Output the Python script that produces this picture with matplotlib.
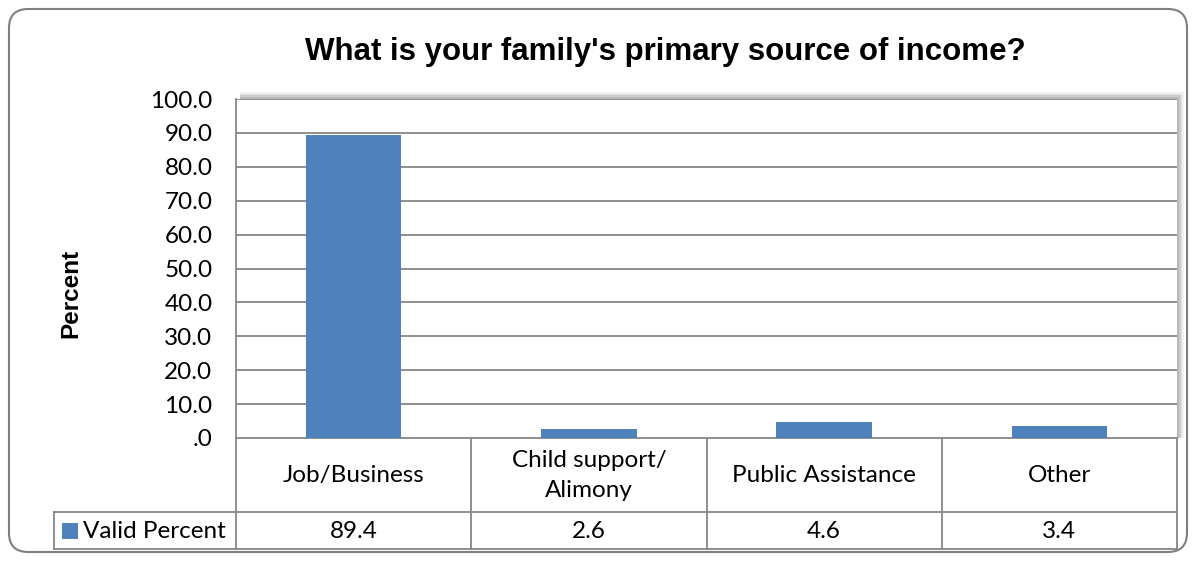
import matplotlib
matplotlib.use("Agg")
import matplotlib.pyplot as plt
from matplotlib.patches import FancyBboxPatch, Rectangle
import numpy as np

categories = ["Job/Business", "Child support/\nAlimony", "Public Assistance", "Other"]
valid_percent = [89.4, 2.6, 4.6, 3.4]
series_name = "Valid Percent"
yticks = [0, 10, 20, 30, 40, 50, 60, 70, 80, 90, 100]
ytick_labels = [".0"] + ["%.1f" % t for t in yticks[1:]]

bar_color = "#4F81BD"
line_color = "#868686"
W, H = 1193, 561

fig = plt.figure(figsize=(W / 100, H / 100), dpi=100)
fig.patch.set_facecolor("white")

def fx(px):
    return px / W

def fy(py):
    return 1 - py / H

# outer rounded frame
frame = FancyBboxPatch((fx(9), fy(552)), fx(1178), 543 / H,
                       boxstyle="round,pad=0,rounding_size=0.016",
                       transform=fig.transFigure, fc="white", ec="#7f7f7f", lw=1.5,
                       mutation_aspect=W / H, zorder=0)
fig.patches.append(frame)

# soft shadow behind the plot area (top and right)
for i, a in enumerate([0.10, 0.15, 0.2, 0.28]):
    off = 7 - i * 1.7
    fig.patches.append(Rectangle((fx(240), fy(438)), fx(937 + off), (339 + off) / H,
                                 transform=fig.transFigure, fc="#808080", ec="none",
                                 alpha=a, zorder=0.5))

ax = fig.add_axes([fx(236), fy(438), fx(941), 339 / H], zorder=2)
ax.set_facecolor("white")
x = np.arange(len(categories))
ax.bar(x, valid_percent, width=0.405, color=bar_color, zorder=3)
ax.set_xlim(-0.5, len(categories) - 0.5)
ax.set_ylim(0, 100)
ax.set_yticks(yticks)
ax.set_yticklabels(ytick_labels, fontsize=17.5, family="Lato")
ax.set_xticks([])
ax.tick_params(axis="y", length=0, pad=17)
for t in yticks[1:]:
    ax.axhline(t, color=line_color, lw=1.3, zorder=1)
for s in ["top", "right"]:
    ax.spines[s].set_visible(False)
ax.spines["left"].set_color(line_color)
ax.spines["left"].set_linewidth(1.3)
ax.spines["bottom"].set_color(line_color)
ax.spines["bottom"].set_linewidth(1.3)

ax.set_title("What is your family's primary source of income?", fontsize=22.5,
             fontweight="bold", family="Liberation Sans", pad=28, x=0.456)
fig.text(fx(71), fy(293), "Percent", rotation=90, fontsize=17.5, fontweight="bold",
         family="Liberation Sans", ha="center", va="center")

# data table under the plot
unit = 941 / len(categories)
left = -0.5 - (236 - 54) / unit
tax = fig.add_axes([fx(54), fy(549), fx(1177 - 54), 111 / H], zorder=2)
tax.set_xlim(left, len(categories) - 0.5)
tax.set_ylim(111, 0)
tax.axis("off")
lw = 1.3
for b in np.arange(len(categories) + 1) - 0.5:
    tax.plot([b, b], [0, 111], color=line_color, lw=lw, clip_on=False)
tax.plot([left, left], [74, 111], color=line_color, lw=lw, clip_on=False)
tax.plot([left, len(categories) - 0.5], [74, 74], color=line_color, lw=lw, clip_on=False)
tax.plot([left, len(categories) - 0.5], [110.5, 110.5], color=line_color, lw=lw, clip_on=False)
for i, (c, v) in enumerate(zip(categories, valid_percent)):
    tax.text(i, 37.5, c, ha="center", va="center", fontsize=17.5, family="Lato",
             linespacing=1.5)
    tax.text(i, 93, "%.1f" % v, ha="center", va="center", fontsize=17.5, family="Lato")
tax.add_patch(Rectangle((left + 8 / unit, 84.5), 16 / unit, 16, fc=bar_color, ec="none"))
tax.text(left + 29 / unit, 93, series_name, ha="left", va="center", fontsize=17.5,
         family="Lato")

fig.savefig("out.png", dpi=100)
